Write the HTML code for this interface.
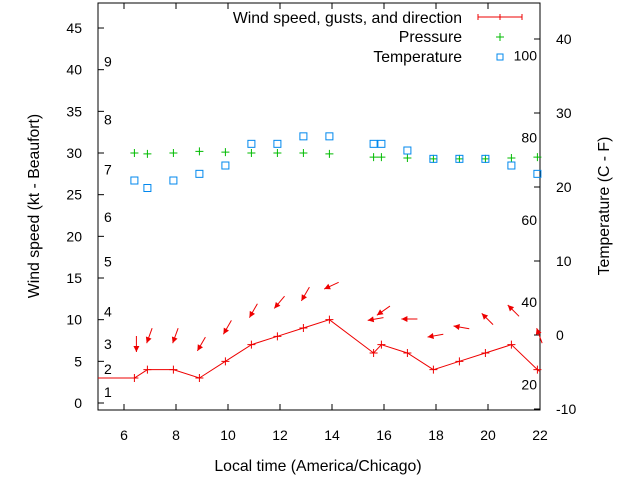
<!DOCTYPE html>
<html><head><meta charset="utf-8"><style>
body{margin:0;background:#fff;}
svg{font-family:"Liberation Sans",sans-serif;font-size:14px;}
.big{font-size:15.8px;}
</style></head><body>
<svg id="c" width="640" height="480">
<rect x="98" y="3" width="442" height="407" fill="none" stroke="#000"/>
<g id="axes"></g><g id="marks"></g>
<text class="big" x="39" y="206" transform="rotate(-90 39 206)" text-anchor="middle">Wind speed (kt - Beaufort)</text>
<text class="big" x="609" y="206" transform="rotate(-90 609 206)" text-anchor="middle">Temperature (C - F)</text>
<text class="big" x="318" y="471" text-anchor="middle">Local time (America/Chicago)</text>
<g>
<text class="big" x="462" y="23" text-anchor="end">Wind speed, gusts, and direction</text>
<line x1="478" y1="17" x2="522" y2="17" stroke="#e00"/><line x1="478" y1="14" x2="478" y2="20" stroke="#e00"/><line x1="500" y1="14" x2="500" y2="20" stroke="#e00"/><line x1="522" y1="14" x2="522" y2="20" stroke="#e00"/>
<text class="big" x="462" y="42" text-anchor="end">Pressure</text>
<path d="M496 37h8M500 33v8" stroke="#0b0"/>
<text class="big" x="462" y="62" text-anchor="end">Temperature</text>
<rect x="497" y="54" width="6" height="6" fill="none" stroke="#08e"/>
</g>
</svg>
<script>
const hours=[4.9,6.4,6.9,7.9,8.9,9.9,10.9,11.9,12.9,13.9,15.6,15.9,16.9,17.9,18.9,19.9,20.9,21.9,22.3];
const windKt=[3,3,4,4,3,5,7,8,9,10,6,7,6,4,5,6,7,4,3];
const windDir=[null,360,20,20,30,30,30,40,30,65,80,55,90,80,100,135,135,160,null];
const pressure=[null,30,29.9,30,30.2,30.1,30,30,30,29.9,29.5,29.5,29.4,29.3,29.3,29.3,29.4,29.5,null];
const temperature=[null,26.7,25.8,26.7,27.5,28.5,31.1,31.1,32,32,31.1,31.1,30.3,29.3,29.3,29.3,28.5,27.5,null];
const xTicks=[6,8,10,12,14,16,18,20,22];
const yTicks=[0,5,10,15,20,25,30,35,40,45];
const cTicks=[-10,0,10,20,30,40];
const fTicks=[20,40,60,80,100];
const bft=[[1,1.3],[2,4.1],[3,7.1],[4,11],[5,17],[6,22.3],[7,28],[8,34],[9,41]];
const NS='http://www.w3.org/2000/svg';
const X=h=>98+(h-5)*26;
const Y=v=>403-v*8.333;
const YC=c=>335-c*7.4;
const YF=f=>YC((f-32)*5/9);
function mk(tag,attrs,parent,txt){const e=document.createElementNS(NS,tag);for(const k in attrs)e.setAttribute(k,attrs[k]);if(txt!==undefined)e.textContent=txt;parent.appendChild(e);return e;}
const ax=document.getElementById('axes'),mg=document.getElementById('marks');
xTicks.forEach(t=>{const x=X(t);
mk('line',{x1:x,y1:410,x2:x,y2:404,stroke:'#000'},ax);mk('line',{x1:x,y1:3,x2:x,y2:9,stroke:'#000'},ax);
const e=mk('text',{x:x,y:440,'text-anchor':'middle'},ax,t);

});
yTicks.forEach(t=>{const y=Y(t);
mk('line',{x1:98,y1:y,x2:104,y2:y,stroke:'#000'},ax);
const e=mk('text',{x:82,y:y+5,'text-anchor':'end'},ax,t);

});
cTicks.forEach(t=>{const y=YC(t);
mk('line',{x1:534,y1:y,x2:540,y2:y,stroke:'#000'},ax);
const e=mk('text',{x:556,y:y+5},ax,t);

});
fTicks.forEach(t=>{const y=YF(t);
const e=mk('text',{x:537,y:y+5,'text-anchor':'end'},ax,t);

});
bft.forEach(b=>{const e=mk('text',{x:104,y:Y(b[1])+5},ax,b[0]);

});
const clip=mk('clipPath',{id:'pc'},mg);mk('rect',{x:98,y:3,width:442,height:407},clip);
const pts=hours.map((h,i)=>X(h)+','+Y(windKt[i])).join(' ');
const wl=mk('polyline',{points:pts,fill:'none',stroke:'#e00','clip-path':'url(#pc)'},mg);


hours.forEach((h,i)=>{
if(h<5||h>22)return;const x=X(h);
const p=mk('path',{d:`M${x-4} ${Y(windKt[i])}h8M${x} ${Y(windKt[i])-4}v8`,stroke:'#e00'},mg);


if(pressure[i]!=null){const y=Y(pressure[i]);
const q=mk('path',{d:`M${x-4} ${y}h8M${x} ${y-4}v8`,stroke:'#0b0'},mg);

}
if(temperature[i]!=null){const y=Y(temperature[i]);
const r=mk('rect',{x:x-3.5,y:y-3.5,width:7,height:7,fill:'none',stroke:'#08e'},mg);

}
if(windDir[i]!=null){const a=windDir[i]*Math.PI/180;const dx=-Math.sin(a),dy=Math.cos(a);
const cx=x+2,cy=Y(windKt[i])-34;const L=8;
const hx=cx+dx*L,hy=cy+dy*L,tx=cx-dx*L,ty=cy-dy*L;
const px=-dy,py=dx;
const g=mk('g',{},mg);


mk('line',{x1:tx,y1:ty,x2:hx,y2:hy,stroke:'#e00'},g);
mk('polygon',{points:`${hx},${hy} ${hx-dx*6+px*3},${hy-dy*6+py*3} ${hx-dx*6-px*3},${hy-dy*6-py*3}`,fill:'#e00'},g);}
});
</script>
</body></html>
